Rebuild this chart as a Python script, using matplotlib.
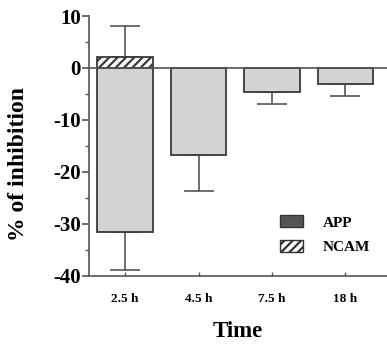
import matplotlib
matplotlib.use("Agg")
import matplotlib.pyplot as plt
from matplotlib.patches import Patch
from matplotlib.ticker import MultipleLocator

plt.rcParams['hatch.linewidth'] = 1.6
plt.rcParams['axes.unicode_minus'] = False

categories = ["2.5 h", "4.5 h", "7.5 h", "18 h"]
app_values = [-31.6, -16.7, -4.7, -3.1]
app_errors = [7.2, 6.9, 2.3, 2.2]
ncam_values = [2.2, 0, 0, 0]
ncam_errors = [5.9, 0, 0, 0]

fig = plt.figure(figsize=(3.87, 3.48), dpi=100)
ax = fig.add_axes([0.23, 0.207, 0.77, 0.747])

x = list(range(len(categories)))
w = 0.76
bar_color = "#d3d3d3"
edge = "#3a3a3a"

ax.bar(x, app_values, width=w, color=bar_color, edgecolor=edge, linewidth=1.3, zorder=2)
ax.bar(x[:1], ncam_values[:1], width=w, color="white", edgecolor=edge, hatch="////", linewidth=1.3, zorder=2)

# one-sided error bars
for xi, v, e in zip(x, app_values, app_errors):
    ax.errorbar(xi, v, yerr=[[e], [0]], fmt="none", ecolor="#555555", elinewidth=1.2, capsize=11, capthick=1.2, zorder=1)
ax.errorbar(x[0], ncam_values[0], yerr=[[0], [ncam_errors[0]]], fmt="none", ecolor="#555555", elinewidth=1.2, capsize=11, capthick=1.2, zorder=1)

ax.axhline(0, color="#555555", linewidth=1.2, zorder=3)

ax.set_xlim(-0.49, 3.565)
ax.set_ylim(-40, 10)
ax.yaxis.set_major_locator(MultipleLocator(10))
ax.yaxis.set_minor_locator(MultipleLocator(5))
ax.set_xticks(x)
ax.set_xticklabels(categories, fontfamily="Liberation Serif", fontweight="bold", fontsize=9.5)
for lab in ax.get_yticklabels():
    lab.set_fontfamily("Liberation Serif")
    lab.set_fontweight("bold")
    lab.set_fontsize(15)

ax.spines['top'].set_visible(False)
ax.spines['right'].set_visible(False)
for s in ['left', 'bottom']:
    ax.spines[s].set_color("#555555")
    ax.spines[s].set_linewidth(1.2)
ax.tick_params(axis='y', which='major', length=5, width=1.2, color="#555555", pad=1)
ax.tick_params(axis='y', which='minor', length=3, width=1.0, color="#555555")
ax.tick_params(axis='x', which='major', length=3, width=1.0, color="#555555", pad=12, direction='in')

ax.set_xlabel("Time", fontfamily="Liberation Serif", fontweight="bold", fontsize=16.5, labelpad=12)
ax.set_ylabel("% of inhibition", fontfamily="Liberation Serif", fontweight="bold", fontsize=17)
ax.yaxis.set_label_coords(-0.2, 0.43)

handles = [Patch(facecolor="#555555", edgecolor="#333333", label="APP"),
           Patch(facecolor="white", edgecolor="#333333", hatch="////", label="NCAM")]
leg = ax.legend(handles=handles, loc="lower right", bbox_to_anchor=(0.99, 0.03), frameon=False,
                prop={"family": "Liberation Serif", "weight": "bold", "size": 11},
                handlelength=1.5, handleheight=0.8, handletextpad=1.3, labelspacing=0.7)

fig.savefig("out.png", dpi=100)
